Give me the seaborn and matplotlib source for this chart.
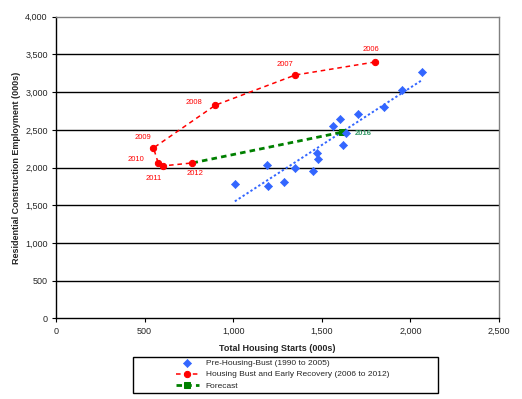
import numpy as np
import pandas as pd
import matplotlib
matplotlib.use("Agg")
import matplotlib.pyplot as plt
from matplotlib.patches import Rectangle
from matplotlib.ticker import FuncFormatter
import seaborn as sns

### 데이터 (값은 그림에서 읽음)
# 1990 ~ 2005 : 주택착공 / 주거건설 고용
pre_starts = [1009, 1188, 1198, 1284, 1350, 1450, 1471, 1476, 1565, 1603, 1618, 1637, 1702, 1849, 1953, 2066]
pre_employ = [1786, 2039, 1755, 1813, 1999, 1951, 2194, 2110, 2549, 2646, 2305, 2456, 2713, 2802, 3032, 3267]

# 2006 ~ 2012
bust_years = ['2006', '2007', '2008', '2009', '2010', '2011', '2012']
bust_starts = [1800, 1350, 900, 550, 576, 601, 770]
bust_employ = [3400, 3227, 2828, 2260, 2065, 2021, 2061]

# forecast 2012 -> 2016
fc_years = ['2012', '2016']
fc_starts = [770, 1614]
fc_employ = [2061, 2469]

x_ticks = [0, 500, 1000, 1500, 2000, 2500]
y_ticks = [0, 500, 1000, 1500, 2000, 2500, 3000, 3500, 4000]

pre = pd.DataFrame({'starts': pre_starts, 'employ': pre_employ})
bust = pd.DataFrame({'year': bust_years, 'starts': bust_starts, 'employ': bust_employ})
fc = pd.DataFrame({'year': fc_years, 'starts': fc_starts, 'employ': fc_employ})

blue = '#3366FF'
red = '#FF0000'
green = '#008000'

sns.set_theme(style='white')
plt.rcParams['font.family'] = ['Liberation Sans', 'DejaVu Sans']

fig = plt.figure(figsize=(5.22, 3.99), dpi=100)
ax = fig.add_axes([0.1073, 0.2023, 0.956 - 0.1073, 0.958 - 0.2023])

# 가로 격자선
for yv in y_ticks[1:-1]:
    ax.axhline(yv, color='black', lw=1.0, zorder=0)

# 추세선 (1990-2005)
sns.regplot(data=pre, x='starts', y='employ', ax=ax, ci=None, scatter=False,
            line_kws=dict(color=blue, ls=(0, (1.2, 1.2)), lw=1.4))

sns.scatterplot(data=pre, x='starts', y='employ', ax=ax, marker='D', s=17,
                color=blue, edgecolor=blue, linewidth=0.5, zorder=4,
                label='Pre-Housing-Bust (1990 to 2005)')

sns.lineplot(data=fc, x='starts', y='employ', ax=ax, sort=False, color=green,
             ls=(0, (2, 1.5)), lw=2.0, marker='s', markersize=4.5,
             markevery=[1], markeredgecolor=green, zorder=3,
             label='Forecast')

sns.lineplot(data=bust, x='starts', y='employ', ax=ax, sort=False, color=red,
             ls=(0, (3, 2.5)), lw=1.1, marker='o', markersize=4.5,
             markeredgecolor=red, zorder=5,
             label='Housing Bust and Early Recovery (2006 to 2012)')

# 연도 라벨 (offset pixels)
offsets = {'2006': (-4, 12), '2007': (-10, 11), '2008': (-22, 3), '2009': (-11, 10),
           '2010': (-22, 3), '2011': (-9, -13), '2012': (3, -11)}
for yr, xs, ys in zip(bust_years, bust_starts, bust_employ):
    ax.annotate(yr, (xs, ys), xytext=offsets[yr], textcoords='offset pixels',
                ha='center', va='center', color=red, fontsize=5.5)
ax.annotate(fc_years[1], (fc_starts[1], fc_employ[1]), xytext=(21, -1),
            textcoords='offset pixels', ha='center', va='center',
            color='#339966', fontsize=5.5, fontweight='bold')

ax.set_xlim(0, 2500)
ax.set_ylim(0, 4000)
ax.set_xticks(x_ticks)
ax.set_yticks(y_ticks)
fmt = FuncFormatter(lambda v, p: f'{int(v):,}')
ax.xaxis.set_major_formatter(fmt)
ax.yaxis.set_major_formatter(fmt)
ax.tick_params(axis='both', which='major', labelsize=6.5, length=3, width=0.8,
               direction='out', color='black', pad=3)
ax.tick_params(bottom=True, left=True)

for side in ['left', 'bottom']:
    ax.spines[side].set_color('black')
    ax.spines[side].set_linewidth(1.0)
for side in ['top', 'right']:
    ax.spines[side].set_color('#808080')
    ax.spines[side].set_linewidth(1.0)

ax.set_xlabel('Total Housing Starts (000s)', fontsize=6.5, fontweight='bold', labelpad=6)
ax.set_ylabel('Residential Construction Employment (000s)', fontsize=6.5,
              fontweight='bold', labelpad=3)

# 범례 순서 : 파랑, 빨강, 초록
handles, labels = ax.get_legend_handles_labels()
order = [labels.index('Pre-Housing-Bust (1990 to 2005)'),
         labels.index('Housing Bust and Early Recovery (2006 to 2012)'),
         labels.index('Forecast')]
ax.legend([handles[i] for i in order], [labels[i] for i in order],
          loc='upper left', bbox_to_anchor=(176 / 522, 1 - 359 / 399),
          bbox_transform=fig.transFigure, fontsize=6, frameon=False,
          borderpad=0, labelspacing=0.45, handlelength=2.7, handletextpad=0.85,
          borderaxespad=0)

# 범례 테두리 박스
fig.patches.append(Rectangle((133 / 522, 1 - 393 / 399), 305 / 522, 36 / 399,
                             transform=fig.transFigure, fill=False,
                             edgecolor='black', lw=1.0))

fig.savefig('out.png', dpi=100)
